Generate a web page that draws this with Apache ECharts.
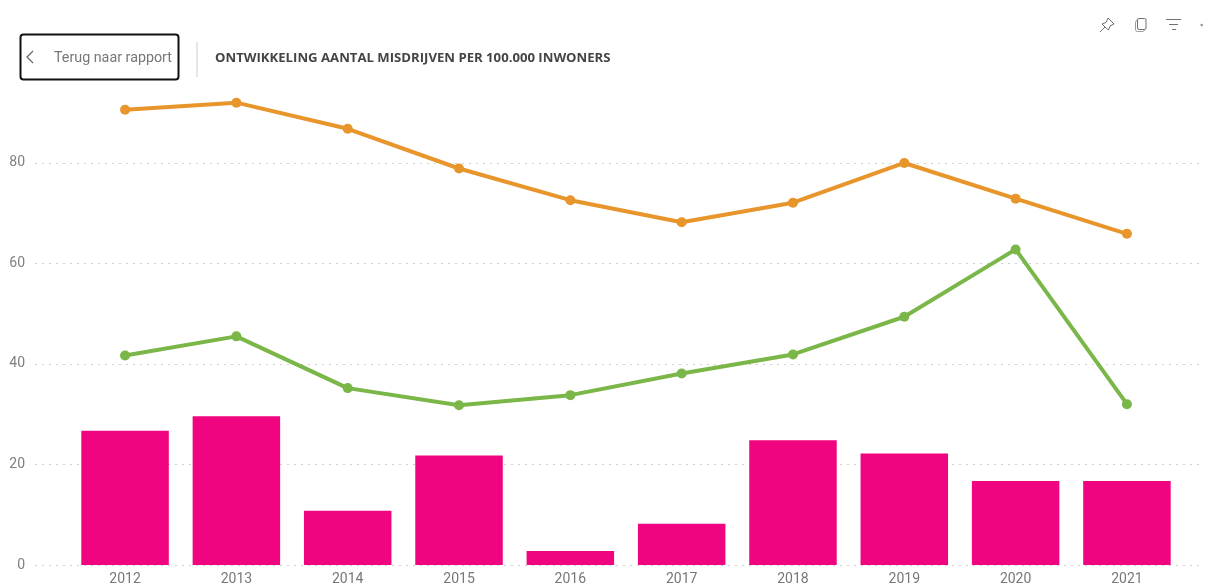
<!DOCTYPE html>
<html><head><meta charset="utf-8">
<style>html,body{margin:0;padding:0;background:#fff}#c{width:1205px;height:586px}</style>
<script src="https://cdn.jsdelivr.net/npm/echarts@6/dist/echarts.min.js"></script>
</head><body><div id="c"></div>
<script>
const years = ['2012','2013','2014','2015','2016','2017','2018','2019','2020','2021'];
const barValues = [26.7,29.6,10.8,21.8,2.8,8.2,24.8,22.2,16.7,16.7];
const orangeValues = [90.6,92.0,86.8,78.9,72.6,68.2,72.1,80.0,72.9,65.9];
const greenValues = [41.7,45.5,35.2,31.8,33.8,38.1,41.9,49.4,62.8,32.0];
const titleText = 'ONTWIKKELING AANTAL MISDRIJVEN PER 100.000 INWONERS';
const backText = 'Terug naar rapport';

const chart = echarts.init(document.getElementById('c'), null, {renderer:'canvas'});
const top_ = 87.6, bottom_ = 21, yMax = 95;
const iconColor = '#707070';
chart.setOption({
  animation:false,
  backgroundColor:'#fff',
  grid:[
    {left:69.4,right:22.4,top:top_,bottom:bottom_},
    {left:35,right:4,top:top_,bottom:bottom_}
  ],
  xAxis:[
    {type:'category',gridIndex:0,data:years,axisLine:{show:false},axisTick:{show:false},
     axisLabel:{color:'#777',fontFamily:'Roboto',fontSize:14,margin:7,interval:0}},
    {type:'category',gridIndex:1,data:years,show:false}
  ],
  yAxis:[
    {type:'value',gridIndex:0,min:0,max:yMax,interval:20,show:false,splitLine:{show:false}},
    {type:'value',gridIndex:1,min:0,max:yMax,interval:20,
     axisLine:{show:false},axisTick:{show:false},
     axisLabel:{color:'#808080',fontFamily:'Roboto',fontSize:14,margin:10,showMaxLabel:false,padding:[3,0,0,0]},
     splitLine:{show:true,showMaxLine:false,lineStyle:{color:'#d0d0d0',type:[2,5],width:1}}}
  ],
  series:[
    {type:'bar',xAxisIndex:0,yAxisIndex:0,data:barValues,barWidth:87.5,itemStyle:{color:'#F0047F'}},
    {type:'line',xAxisIndex:0,yAxisIndex:0,data:orangeValues,symbol:'circle',symbolSize:10,
     lineStyle:{color:'#E8952C',width:4},itemStyle:{color:'#E8952C'}},
    {type:'line',xAxisIndex:0,yAxisIndex:0,data:greenValues,symbol:'circle',symbolSize:10,
     lineStyle:{color:'#7AB648',width:4},itemStyle:{color:'#7AB648'}}
  ],
  title:{text:titleText,left:210,top:47,textStyle:{color:'#444',fontFamily:'Open Sans',fontWeight:'bold',fontSize:13.15}},
  graphic:[
    {type:'rect',shape:{x:20.5,y:34.5,width:158,height:45,r:3},style:{fill:'#fff',stroke:'#111',lineWidth:2}},
    {type:'polyline',shape:{points:[[33,51],[27,57],[33,63]]},style:{fill:null,stroke:'#666',lineWidth:1.2}},
    {type:'text',x:54,y:51,style:{text:backText,fill:'#777',font:'14.3px Roboto'}},
    {type:'line',shape:{x1:197,y1:42,x2:197,y2:77},style:{stroke:'#ccc',lineWidth:1}},
    {type:'polyline',shape:{points:[[1100,32],[1105,27],[1102,24],[1106,22.5],[1108,18],[1114,24],[1110,26],[1108.5,30],[1105,27]]},style:{fill:null,stroke:iconColor,lineWidth:1}},
    {type:'rect',shape:{x:1135.5,y:20.5,width:9,height:11,r:2},style:{fill:'#fff',stroke:'#999',lineWidth:1}},
    {type:'rect',shape:{x:1137.5,y:18.5,width:8.5,height:11,r:1.5},style:{fill:'#fff',stroke:iconColor,lineWidth:1}},
    {type:'line',shape:{x1:1166,y1:19.5,x2:1181,y2:19.5},style:{stroke:iconColor,lineWidth:1}},
    {type:'line',shape:{x1:1169,y1:24.5,x2:1178,y2:24.5},style:{stroke:iconColor,lineWidth:1}},
    {type:'line',shape:{x1:1172,y1:29.5,x2:1176,y2:29.5},style:{stroke:iconColor,lineWidth:1}},
    {type:'circle',shape:{cx:1201.7,cy:25,r:1.3},style:{fill:'#999'}}
  ]
});
</script></body></html>
